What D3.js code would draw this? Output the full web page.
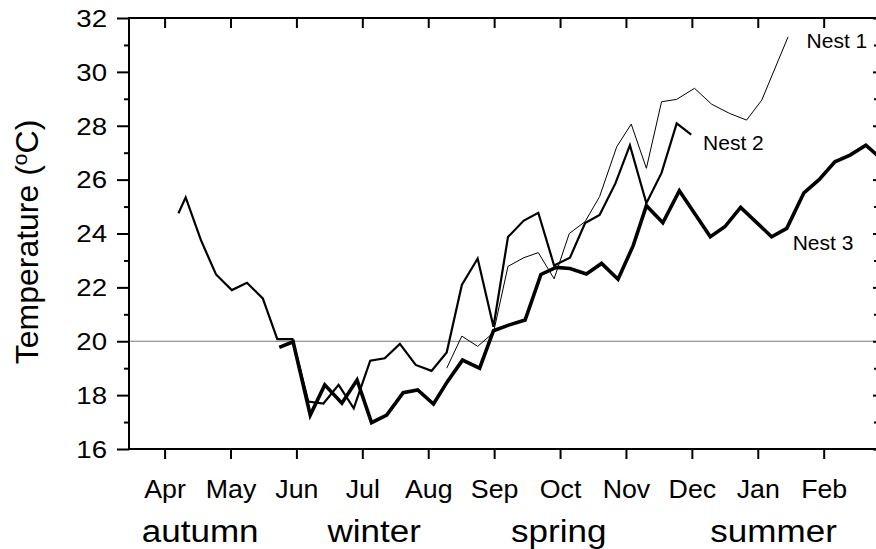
<!DOCTYPE html>
<html>
<head>
<meta charset="utf-8">
<script src="https://cdn.jsdelivr.net/npm/d3@7"></script>
<style>
  html, body { margin: 0; padding: 0; background: #fff; }
  svg { display: block; }
  text { font-family: "Liberation Sans", Arial, Helvetica, sans-serif; fill: #000; }
</style>
</head>
<body>
<svg id="chart" width="876" height="549"></svg>
<script>
// ---------- data (x = months after the April tick, y = °C) ----------
const months = ["Apr","May","Jun","Jul","Aug","Sep","Oct","Nov","Dec","Jan","Feb"];
const monthPos = [0,1,2,3,4,5,6,7,8,9,10];
const seasons = ["autumn","winter","spring","summer"];
const seasonPos = [0.54, 3.18, 5.98, 9.24];
const yMajor = [16,18,20,22,24,26,28,30,32];
const yMinor = [17,19,21,23,25,27,29,31];
const refTemp = 20;

const nest1X = [4.28,4.51,4.75,4.99,5.21,5.45,5.67,5.91,6.14,6.38,6.60,6.86,7.08,7.31,7.54,7.77,8.04,8.30,8.57,8.83,9.06,9.46];
const nest1Y = [19.0,20.19,19.81,20.32,22.78,23.1,23.29,22.32,24.0,24.44,25.37,27.22,28.06,26.42,28.89,28.98,29.39,28.8,28.46,28.21,28.95,31.3];

const nest2X = [0.21,0.32,0.55,0.78,1.02,1.25,1.49,1.71,1.94,2.18,2.41,2.64,2.87,3.12,3.34,3.57,3.81,4.05,4.28,4.51,4.75,4.99,5.21,5.45,5.67,5.91,6.15,6.38,6.60,6.84,7.06,7.31,7.54,7.77,7.99];
const nest2Y = [24.75,25.34,23.76,22.48,21.9,22.17,21.59,20.08,20.08,17.76,17.69,18.38,17.51,19.28,19.37,19.9,19.12,18.9,19.58,22.09,23.07,20.54,23.87,24.48,24.77,22.81,23.1,24.39,24.69,25.86,27.28,25.12,26.25,28.09,27.67];

const nest3X = [1.74,1.95,2.21,2.43,2.69,2.92,3.14,3.37,3.62,3.84,4.08,4.29,4.52,4.78,4.99,5.22,5.47,5.71,5.94,6.15,6.40,6.63,6.88,7.11,7.31,7.56,7.81,8.28,8.50,8.74,9.21,9.44,9.70,9.93,10.17,10.40,10.64,10.86];
const nest3Y = [19.77,19.98,17.26,18.38,17.7,18.56,16.98,17.26,18.09,18.19,17.67,18.5,19.3,19.0,20.39,20.6,20.79,22.48,22.74,22.7,22.5,22.89,22.3,23.55,25.03,24.4,25.59,23.88,24.25,24.97,23.88,24.19,25.51,26.0,26.66,26.91,27.28,26.8];

const nestNames = ["Nest 1","Nest 2","Nest 3"];

// ---------- layout ----------
const svg = d3.select("#chart");
const L = 129, R = 883, T = 18, B = 449;
const x = d3.scaleLinear().domain([-0.54, 10.9]).range([L, R]);
const y = d3.scaleLinear().domain([16, 32]).range([B, T]);

// widen glyphs horizontally (reference type is slightly stretched)
function stretch(sel, k) {
  sel.each(function() {
    const w = this.getComputedTextLength();
    d3.select(this).attr("textLength", w * k).attr("lengthAdjust", "spacingAndGlyphs");
  });
}

svg.append("defs").append("clipPath").attr("id","plot")
  .append("rect").attr("x", L).attr("y", T).attr("width", R - L).attr("height", B - T);

// reference line at 20 °C
svg.append("line")
  .attr("x1", L).attr("x2", R)
  .attr("y1", y(refTemp)).attr("y2", y(refTemp))
  .attr("stroke", "#777").attr("stroke-width", 1);

// series
const series = [
  {name: nestNames[0], xs: nest1X, ys: nest1Y, w: 1.0},
  {name: nestNames[1], xs: nest2X, ys: nest2Y, w: 2.2},
  {name: nestNames[2], xs: nest3X, ys: nest3Y, w: 3.6}
];
const line = d3.line().x(d => x(d[0])).y(d => y(d[1]));
const g = svg.append("g").attr("clip-path", "url(#plot)");
series.forEach(s => {
  g.append("path")
    .datum(s.xs.map((v, i) => [v, s.ys[i]]))
    .attr("d", line)
    .attr("fill", "none")
    .attr("stroke", "#000")
    .attr("stroke-width", s.w)
    .attr("stroke-linejoin", "miter");
});

// series labels (anchor in data coordinates)
const labelAt = [[9.74, 30.89], [8.17, 27.1], [9.53, 23.39]];
nestNames.forEach((n, i) => {
  svg.append("text")
    .attr("x", x(labelAt[i][0])).attr("y", y(labelAt[i][1]))
    .attr("font-size", 21)
    .text(n);
});

// ---------- axes ----------
function styleAxis(sel) {
  sel.select(".domain").remove();
  sel.selectAll(".tick line").attr("stroke", "#000").attr("stroke-width", 2);
}

const axLeft = svg.append("g").attr("transform", `translate(${L},0)`)
  .call(d3.axisLeft(y).tickValues(yMajor).tickSize(12).tickPadding(10).tickFormat(d3.format("d")));
styleAxis(axLeft);
axLeft.selectAll("text").attr("font-size", 23).attr("dy", "0.36em")
  .attr("font-family", '"Liberation Sans", Arial, sans-serif');
stretch(axLeft.selectAll("text"), 1.2);
const axLeftMin = svg.append("g").attr("transform", `translate(${L},0)`)
  .call(d3.axisLeft(y).tickValues(yMinor).tickSize(5).tickFormat(""));
styleAxis(axLeftMin);

const axRight = svg.append("g").attr("transform", `translate(${R},0)`)
  .call(d3.axisLeft(y).tickValues(yMajor).tickSize(10).tickFormat(""));
styleAxis(axRight);
const axRightMin = svg.append("g").attr("transform", `translate(${R},0)`)
  .call(d3.axisLeft(y).tickValues(yMinor).tickSize(9).tickFormat(""));
styleAxis(axRightMin);

const axTop = svg.append("g").attr("transform", `translate(0,${T})`)
  .call(d3.axisBottom(x).tickValues(monthPos).tickSize(10).tickFormat(""));
styleAxis(axTop);

const axBottom = svg.append("g").attr("transform", `translate(0,${B})`)
  .call(d3.axisBottom(x).tickValues(monthPos).tickSize(10).tickFormat((d, i) => months[i]));
styleAxis(axBottom);
axBottom.selectAll("text").attr("font-size", 25).attr("y", 49).attr("dy", 0)
  .attr("font-family", '"Liberation Sans", Arial, sans-serif');
stretch(axBottom.selectAll("text"), 1.07);

// frame
svg.append("rect")
  .attr("x", L).attr("y", T).attr("width", R - L).attr("height", B - T)
  .attr("fill", "none").attr("stroke", "#000").attr("stroke-width", 2);

// season labels
const seasonText = svg.append("g").selectAll("text")
  .data(seasons).join("text")
    .attr("x", (d, i) => x(seasonPos[i])).attr("y", 542)
    .attr("text-anchor", "middle")
    .attr("font-size", 31)
    .text(d => d);
stretch(seasonText, 1.13);

// y-axis title
const yt = svg.append("text")
  .attr("transform", "translate(38,242) rotate(-90)")
  .attr("text-anchor", "middle")
  .attr("font-size", 32);
yt.append("tspan").text("Temperature (");
yt.append("tspan").attr("font-size", 21).attr("dy", -11).text("o");
yt.append("tspan").attr("dy", 11).text("C)");
</script>
</body>
</html>
